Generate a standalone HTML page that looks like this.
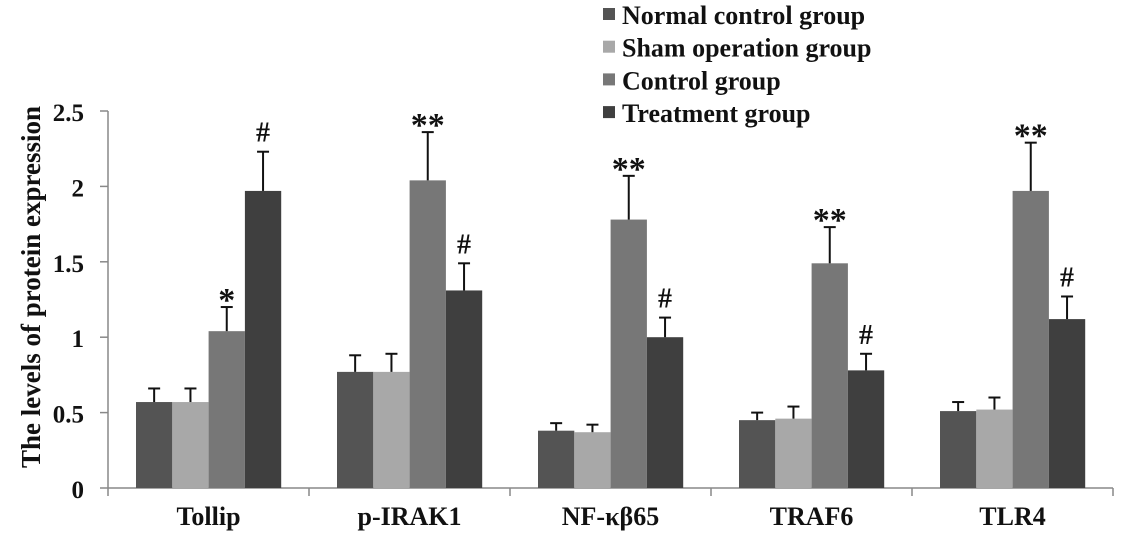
<!DOCTYPE html>
<html><head><meta charset="utf-8"><style>
body{margin:0;background:#fff;}
svg text{font-family:"Liberation Serif",serif;font-weight:bold;fill:#111;}
</style></head><body>
<svg width="1127" height="538">
<g id="legend"></g>
<g id="plot"></g>
<text transform="translate(40,287) rotate(-90)" text-anchor="middle" font-size="27">The levels of protein expression</text>
</svg>
<script>
const categories=["Tollip","p-IRAK1","NF-κβ65","TRAF6","TLR4"];
const seriesNames=["Normal control group","Sham operation group","Control group","Treatment group"];
const normal=[0.57,0.77,0.38,0.45,0.51];
const sham=[0.57,0.77,0.37,0.46,0.52];
const control=[1.04,2.04,1.78,1.49,1.97];
const treatment=[1.97,1.31,1.00,0.78,1.12];
const errNormal=[0.09,0.11,0.05,0.05,0.06];
const errSham=[0.09,0.12,0.05,0.08,0.08];
const errControl=[0.16,0.32,0.29,0.24,0.32];
const errTreatment=[0.26,0.18,0.13,0.11,0.15];
const marksControl=["*","**","**","**","**"];
const marksTreatment=["#","#","#","#","#"];
const yTicks=[0,0.5,1,1.5,2,2.5];
const yTickLabels=["0","0.5","1","1.5","2","2.5"];

const NS="http://www.w3.org/2000/svg";
const colors=["#545454","#a8a8a8","#777777","#3f3f3f"];
const x0=108,y0=488,catW=201,barW=36.3,pad=28;
const y=v=>y0-v*150.8;
const plot=document.getElementById('plot');
function mk(t,a,p){const e=document.createElementNS(NS,t);for(const k in a)e.setAttribute(k,a[k]);(p||plot).appendChild(e);return e;}
let ya=mk('line',{x1:x0,y1:y(2.5),x2:x0,y2:y0,stroke:'#888','stroke-width':1.5});


let xa=mk('line',{x1:x0,y1:y0,x2:x0+catW*5,y2:y0,stroke:'#888','stroke-width':1.5});


yTicks.forEach((t,i)=>{
 mk('line',{x1:x0-8,y1:y(t),x2:x0,y2:y(t),stroke:'#888','stroke-width':1.5});
 const tx=mk('text',{x:84,y:y(t)+10,'text-anchor':'end','font-size':25});
 tx.textContent=yTickLabels[i];
 
 
});
for(let i=0;i<=5;i++)mk('line',{x1:x0+i*catW,y1:y0,x2:x0+i*catW,y2:y0+8,stroke:'#888','stroke-width':1.5});
const series=[normal,sham,control,treatment];
const errs=[errNormal,errSham,errControl,errTreatment];
categories.forEach((c,ci)=>{
 const gx=x0+ci*catW+pad;
 series.forEach((s,si)=>{
  const bx=gx+si*barW,v=s[ci];
  const r=mk('rect',{x:bx,y:y(v),width:barW,height:y0-y(v),fill:colors[si]});
  
  
  const cx=bx+barW/2,top=y(v+errs[si][ci]);
  mk('line',{x1:cx,y1:y(v),x2:cx,y2:top,stroke:'#111','stroke-width':2});
  mk('line',{x1:cx-6,y1:top,x2:cx+6,y2:top,stroke:'#111','stroke-width':2});
  let m=si==2?marksControl[ci]:si==3?marksTreatment[ci]:"";
  if(m){const t=mk('text',{x:cx,y:top-(m=="#"?10:-4),'text-anchor':'middle','font-size':m=="#"?28:34});t.textContent=m;
   
   }
 });
 const lt=mk('text',{x:x0+ci*catW+catW/2,y:525,'text-anchor':'middle','font-size':26});
 lt.textContent=c;
 
 
});
const lg=document.getElementById('legend');
seriesNames.forEach((n,i)=>{
 const yy=24+i*32.7;
 mk('rect',{x:603,y:yy-16,width:12,height:12,fill:colors[i]},lg);
 const t=mk('text',{x:622,y:yy,'font-size':26},lg);t.textContent=n;
 
 
});
</script>
</body></html>
